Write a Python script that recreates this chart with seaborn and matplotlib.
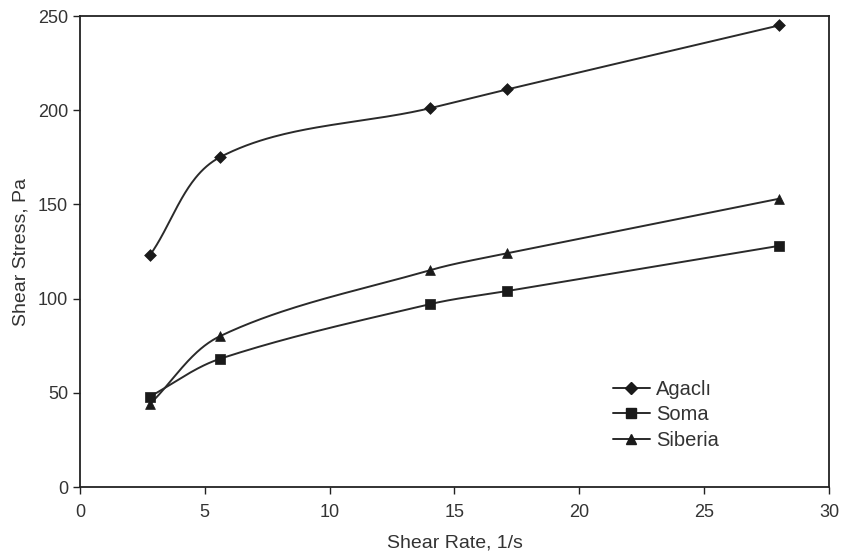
import numpy as np
import pandas as pd
import matplotlib
matplotlib.use("Agg")
import matplotlib.pyplot as plt
import seaborn as sns
from matplotlib.lines import Line2D

shear_rate = [2.8, 5.6, 14.0, 17.1, 28.0]
agacli = [123, 175, 201, 211, 245]
soma = [48, 68, 97, 104, 128]
siberia = [44, 80, 115, 124, 153]
series_names = ["Agaclı", "Soma", "Siberia"]
markers = ["D", "s", "^"]
x_ticks = [0, 5, 10, 15, 20, 25, 30]
y_ticks = [0, 50, 100, 150, 200, 250]

sns.set_theme(style="white")
plt.rcParams["font.family"] = ["Liberation Sans", "DejaVu Sans"]

# screen scale factors (px per data unit) used only for smoothing shape
SX, SY = 749 / 30.0, 471 / 250.0


def _unit(v):
    n = np.hypot(v[0], v[1])
    return v / n if n > 0 else v


def smooth(x, y, n=60):
    x = np.asarray(x, float) * SX
    y = np.asarray(y, float) * SY
    P = np.column_stack([x, y])
    P = np.vstack([P[0], P, P[-1]])
    out = []
    for i in range(1, len(P) - 2):
        p0, p1, p2, p3 = P[i - 1], P[i], P[i + 1], P[i + 2]
        d = np.hypot(*(p2 - p1))
        c1 = p1 + _unit(p2 - p0) * d / 3.0
        c2 = p2 - _unit(p3 - p1) * d / 3.0
        t = np.linspace(0, 1, n)[:, None]
        seg = ((1 - t) ** 3) * p1 + 3 * ((1 - t) ** 2) * t * c1 + 3 * (1 - t) * t**2 * c2 + t**3 * p2
        out.append(seg if i == 1 else seg[1:])
    s = np.vstack(out)
    return s[:, 0] / SX, s[:, 1] / SY


fig = plt.figure(figsize=(8.41, 5.56), dpi=100)
ax = fig.add_axes([0.0951, 0.1241, 0.8906, 0.8471])

line_color = "#2a2a2a"
rows = []
for name, vals in zip(series_names, [agacli, soma, siberia]):
    for xv, yv in zip(shear_rate, vals):
        rows.append({"x": xv, "y": yv, "series": name})
df = pd.DataFrame(rows)

handles = []
for name, mk in zip(series_names, markers):
    sub = df[df["series"] == name]
    sx, sy = smooth(sub["x"], sub["y"])
    sns.lineplot(x=sx, y=sy, ax=ax, color=line_color, lw=1.4, sort=False,
                 estimator=None, legend=False)
    sns.scatterplot(data=sub, x="x", y="y", marker=mk, s=50 if mk != "D" else 36,
                    color="#1a1a1a", edgecolor="#1a1a1a", linewidth=0.5, ax=ax,
                    legend=False, zorder=3)
    handles.append(Line2D([0], [0], color=line_color, lw=1.4, marker=mk,
                          markersize=7 if mk != "D" else 6,
                          markerfacecolor="#1a1a1a", markeredgecolor="#1a1a1a"))

ax.set_xlim(0, 30)
ax.set_ylim(0, 250)
ax.set_xticks(x_ticks)
ax.set_yticks(y_ticks)
ax.tick_params(axis="both", direction="out", length=5, width=1, colors="#222222",
               labelsize=13, labelcolor="#333333", bottom=True, left=True)
ax.tick_params(axis="x", pad=7)
for sp in ax.spines.values():
    sp.set_color("#222222")
    sp.set_linewidth(1.3)
ax.set_xlabel("Shear Rate, 1/s", fontsize=14, color="#333333", labelpad=10)
ax.set_ylabel("Shear Stress, Pa", fontsize=14, color="#333333", labelpad=6)

leg = ax.legend(handles, series_names, loc="upper left",
                bbox_to_anchor=(0.687, 0.266), frameon=False, fontsize=14.5,
                handlelength=1.85, handletextpad=0.3, labelspacing=0.32,
                labelcolor="#333333")

fig.savefig("out.png", dpi=100)
